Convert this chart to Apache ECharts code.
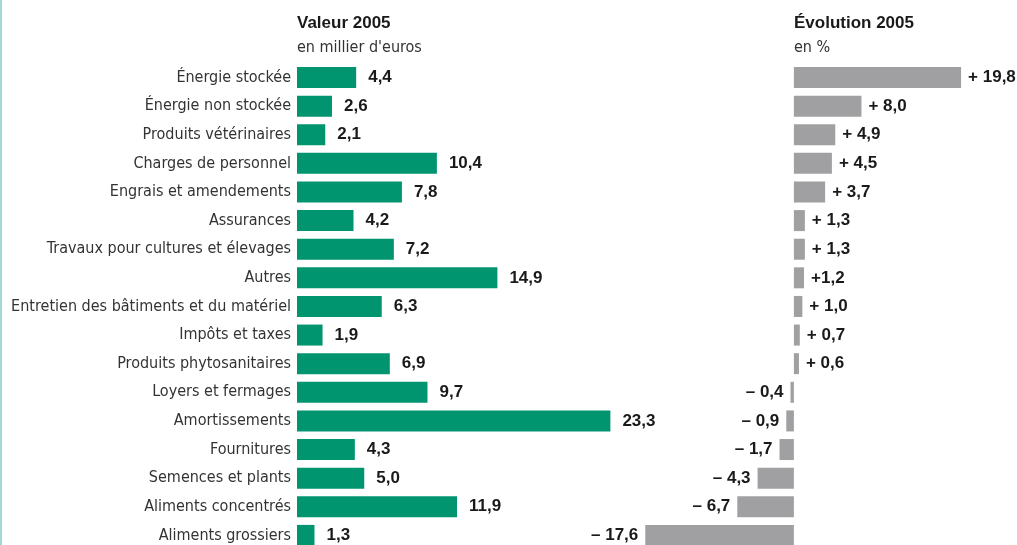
<!DOCTYPE html>
<html><head><meta charset="utf-8">
<script src="https://cdn.jsdelivr.net/npm/echarts@6/dist/echarts.min.js"></script>
<style>html,body{margin:0;padding:0;background:#fff;overflow:hidden}#c{width:1017px;height:570px}</style>
</head><body><div id="c"></div>
<script>
const categories = ["Énergie stockée","Énergie non stockée","Produits vétérinaires","Charges de personnel","Engrais et amendements","Assurances","Travaux pour cultures et élevages","Autres","Entretien des bâtiments et du matériel","Impôts et taxes","Produits phytosanitaires","Loyers et fermages","Amortissements","Fournitures","Semences et plants","Aliments concentrés","Aliments grossiers"];
const valeur2005 = [4.4,2.6,2.1,10.4,7.8,4.2,7.2,14.9,6.3,1.9,6.9,9.7,23.3,4.3,5.0,11.9,1.3];
const evolution2005 = [19.8,8.0,4.9,4.5,3.7,1.3,1.3,1.2,1.0,0.7,0.6,-0.4,-0.9,-1.7,-4.3,-6.7,-17.6];
const evolutionLabels = ["+ 19,8","+ 8,0","+ 4,9","+ 4,5","+ 3,7","+ 1,3","+ 1,3","+1,2","+ 1,0","+ 0,7","+ 0,6","– 0,4","– 0,9","– 1,7","– 4,3","– 6,7","– 17,6"];

const FONT = '"DejaVu Sans Condensed", "Liberation Sans", sans-serif';
const BFONT = '"Liberation Sans", Arial, sans-serif';
const chart = echarts.init(document.getElementById('c'));
const valLabel = {show:true, fontFamily:BFONT, fontWeight:'bold', fontSize:17, color:'#1a1a1a'};
chart.setOption({
  animation:false,
  graphic:[
    {type:'rect', shape:{x:0,y:0,width:2,height:570}, style:{fill:'#9fdad3'}},
    {type:'text', left:297, top:15, style:{text:'Valeur 2005', font:'bold 17px '+BFONT, fill:'#1a1a1a'}},
    {type:'text', left:297, top:40, style:{text:"en millier d'euros", font:'16px '+FONT, fill:'#333'}},
    {type:'text', left:794, top:15, style:{text:'Évolution 2005', font:'bold 17px '+BFONT, fill:'#1a1a1a'}},
    {type:'text', left:794, top:40, style:{text:'en %', font:'16px '+FONT, fill:'#333'}}
  ],
  grid:[
    {left:297, top:63.2, width:403.5, height:486.5},
    {left:625, top:63.2, width:380, height:486.5}
  ],
  xAxis:[
    {gridIndex:0, type:'value', min:0, max:30, show:false, splitLine:{show:false}},
    {gridIndex:1, type:'value', min:-20, max:25, show:false, splitLine:{show:false}}
  ],
  yAxis:[
    {gridIndex:0, type:'category', data:categories, inverse:true,
     axisLine:{show:false}, axisTick:{show:false}, splitLine:{show:false},
     axisLabel:{fontFamily:FONT, fontSize:16, color:'#333', margin:6}},
    {gridIndex:1, type:'category', data:categories, inverse:true, show:false}
  ],
  series:[
    {type:'bar', xAxisIndex:0, yAxisIndex:0, data:valeur2005, barWidth:21,
     itemStyle:{color:'#00946f'},
     label:Object.assign({position:'right', distance:12, formatter:p=>String(p.value.toFixed(1)).replace('.',',')}, valLabel)},
    {type:'bar', xAxisIndex:1, yAxisIndex:1, barWidth:21,
     itemStyle:{color:'#a0a0a2'},
     data:evolution2005.map((v,i)=>({value:v, label:Object.assign({position:v>=0?'right':'left', distance:7, formatter:evolutionLabels[i]}, valLabel)}))}
  ]
});
</script></body></html>
